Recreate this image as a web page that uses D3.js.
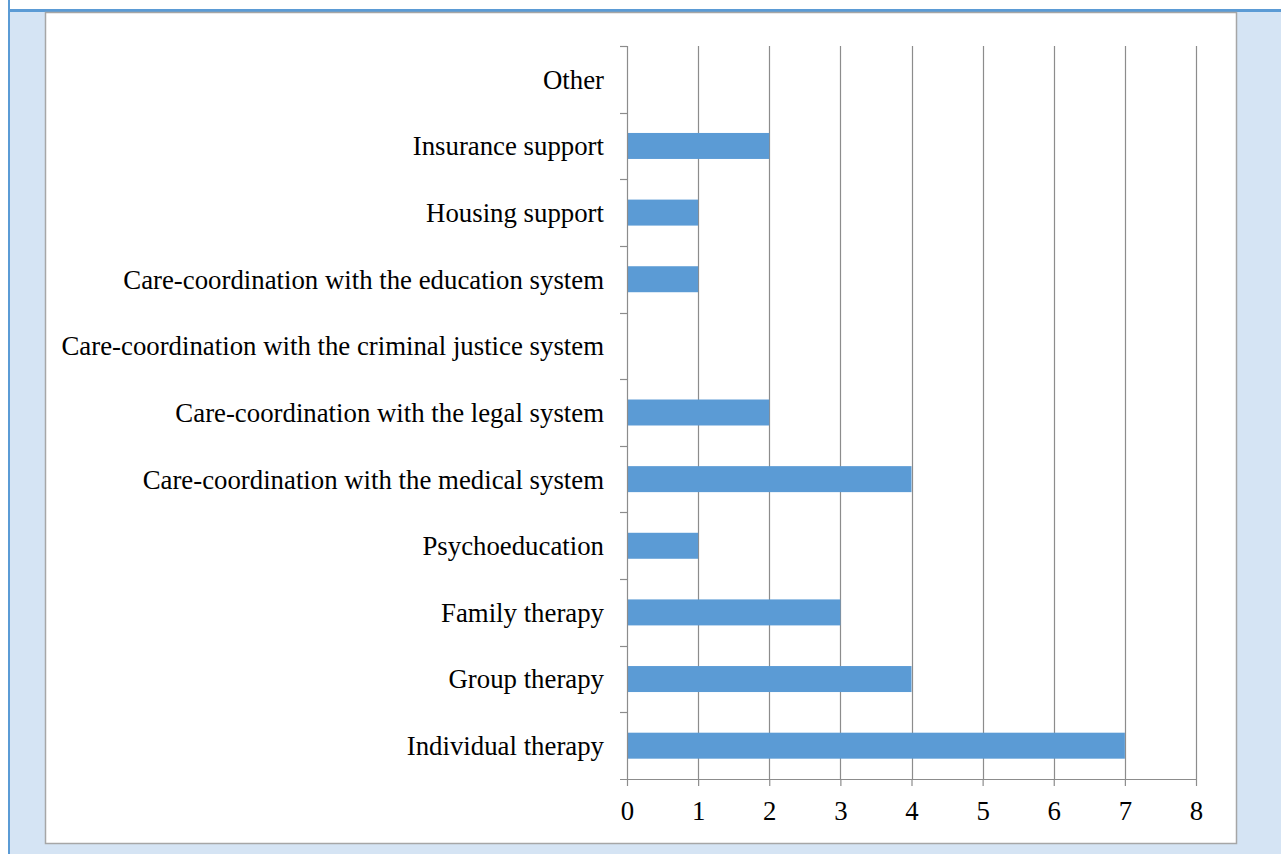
<!DOCTYPE html>
<html>
<head>
<meta charset="utf-8">
<script src="https://cdn.jsdelivr.net/npm/d3@7"></script>
<style>
  html, body { margin: 0; padding: 0; background: #ffffff; }
  svg { display: block; }
</style>
</head>
<body>
<svg id="chart" width="1281" height="854"></svg>
<script>
// Services offered, listed top to bottom as shown on the chart
const categories = [
  "Other",
  "Insurance support",
  "Housing support",
  "Care-coordination with the education system",
  "Care-coordination with the criminal justice system",
  "Care-coordination with the legal system",
  "Care-coordination with the medical system",
  "Psychoeducation",
  "Family therapy",
  "Group therapy",
  "Individual therapy"
];
const counts = [0, 2, 1, 1, 0, 2, 4, 1, 3, 4, 7];
const xTicks = [0, 1, 2, 3, 4, 5, 6, 7, 8];

const svg = d3.select("#chart");
const W = 1281, H = 854;

// Frame: light blue panel with blue rule lines, white chart box
svg.append("rect").attr("x", 8).attr("y", 10).attr("width", W - 8).attr("height", H - 10)
  .attr("fill", "#d5e4f4");
svg.append("line").attr("x1", 9).attr("x2", 9).attr("y1", 0).attr("y2", H)
  .attr("stroke", "#5b9bd5").attr("stroke-width", 2);
svg.append("line").attr("x1", 8).attr("x2", W).attr("y1", 10.5).attr("y2", 10.5)
  .attr("stroke", "#5b9bd5").attr("stroke-width", 3);
svg.append("rect").attr("x", 45.5).attr("y", 12.5).attr("width", 1191).attr("height", 831)
  .attr("fill", "#ffffff").attr("stroke", "#a6a6a6").attr("stroke-width", 1.5);

const margin = { left: 627, right: 1196, top: 46, bottom: 779 };

const x = d3.scaleLinear().domain([0, 8]).range([margin.left, margin.right]);
const y = d3.scaleBand().domain(categories).range([margin.top, margin.bottom])
  .paddingInner(0.61).paddingOuter(0.305);
const yStep = y.step();

const font = "'Liberation Serif', 'Times New Roman', serif";
const fontSize = 26.8;

// Vertical gridlines
svg.append("g").selectAll("line").data(xTicks.filter(d => d > 0)).join("line")
  .attr("x1", d => Math.round(x(d)) + 0.5).attr("x2", d => Math.round(x(d)) + 0.5)
  .attr("y1", margin.top).attr("y2", margin.bottom)
  .attr("stroke", "#8c8c8c").attr("stroke-width", 1.2);

// Bars
svg.append("g").selectAll("rect").data(categories.map((c, i) => ({ c, v: counts[i] }))).join("rect")
  .attr("x", x(0)).attr("y", d => y(d.c))
  .attr("width", d => x(d.v) - x(0)).attr("height", y.bandwidth())
  .attr("fill", "#5b9bd5");

// Bottom axis
const xAxis = svg.append("g").attr("transform", `translate(0,${margin.bottom})`)
  .call(d3.axisBottom(x).tickValues(xTicks).tickSize(7).tickSizeOuter(0).tickPadding(15));
xAxis.select(".domain").attr("stroke", "#8c8c8c").attr("stroke-width", 1.2)
  .attr("d", `M${margin.left - 7},0.5H${margin.right}`);
xAxis.selectAll(".tick line").attr("stroke", "#8c8c8c").attr("stroke-width", 1.2);
xAxis.selectAll(".tick text").attr("font-family", font).attr("font-size", fontSize).attr("fill", "#000");

// Left axis with ticks on band boundaries
const yAxis = svg.append("g");
yAxis.append("line").attr("x1", margin.left + 0.5).attr("x2", margin.left + 0.5)
  .attr("y1", margin.top).attr("y2", margin.bottom)
  .attr("stroke", "#8c8c8c").attr("stroke-width", 1.2);
yAxis.selectAll("line.tk").data(d3.range(categories.length)).join("line").attr("class", "tk")
  .attr("x1", margin.left - 7).attr("x2", margin.left)
  .attr("y1", i => Math.round(margin.top + i * yStep) + 0.5)
  .attr("y2", i => Math.round(margin.top + i * yStep) + 0.5)
  .attr("stroke", "#8c8c8c").attr("stroke-width", 1.2);
yAxis.selectAll("text").data(categories).join("text")
  .attr("x", margin.left - 23).attr("y", d => y(d) + y.bandwidth() / 2)
  .attr("dy", "0.35em").attr("text-anchor", "end")
  .attr("font-family", font).attr("font-size", fontSize).attr("fill", "#000")
  .text(d => d);
</script>
</body>
</html>
